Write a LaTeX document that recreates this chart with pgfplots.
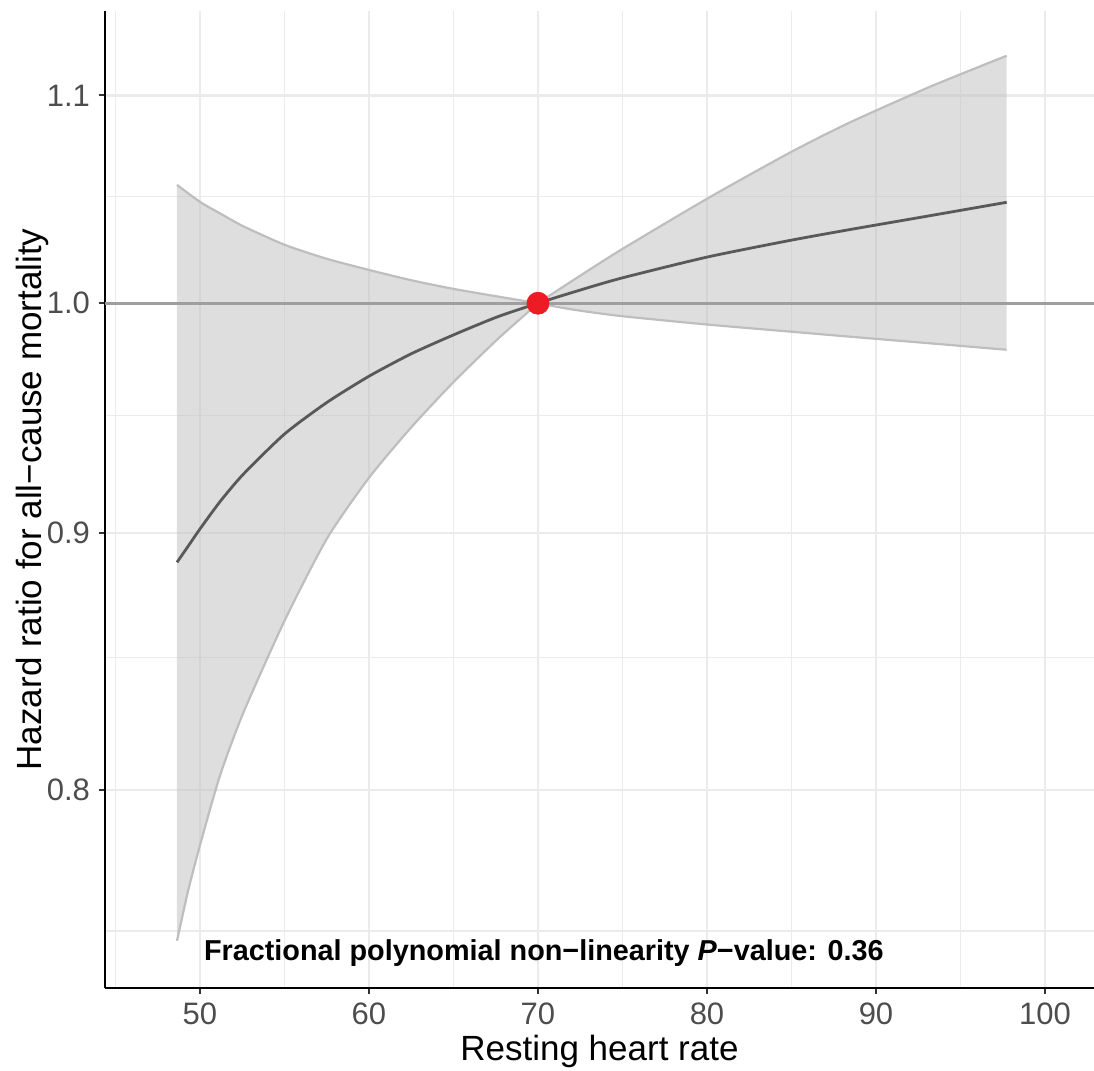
\documentclass[border=0pt]{standalone}
\usepackage{pgfplots}
\pgfplotsset{compat=1.18}
\usepgfplotslibrary{fillbetween}
\usetikzlibrary{calc}
\usepackage{fontspec}
\setmainfont{Liberation Sans}
\definecolor{gridc}{RGB}{235,235,235}
\definecolor{ticklab}{RGB}{77,77,77}
\definecolor{refline}{RGB}{158,158,158}
\definecolor{ciline}{RGB}{190,190,190}
\definecolor{fitline}{RGB}{89,89,89}
\definecolor{refpt}{RGB}{237,28,36}

% fitted hazard ratio and 95% CI
\pgfplotstableread{
x hr
48.64 0.8880
49.30 0.8946
50.00 0.9017
51.18 0.9130
52.55 0.9245
55.00 0.9418
57.50 0.9555
60.00 0.9671
62.50 0.9771
65.00 0.9856
67.60 0.9938
70.00 1.0000
72.00 1.0049
74.85 1.0114
80.00 1.0214
84.90 1.0292
88.46 1.0344
93.20 1.0410
97.73 1.0474
}\fitdata
\pgfplotstableread{
x hr
48.64 1.0558
50.00 1.0476
51.20 1.0420
52.55 1.0360
55.00 1.0272
57.50 1.0206
60.00 1.0154
62.50 1.0106
65.00 1.0066
67.60 1.0031
70.00 1.0000
72.00 1.0102
74.85 1.0245
80.00 1.0491
84.90 1.0715
88.46 1.0865
93.20 1.1044
97.73 1.1202
}\ciup
\pgfplotstableread{
x hr
48.64 0.7466
49.30 0.7640
50.00 0.7800
51.18 0.8052
52.55 0.8286
55.00 0.8645
57.50 0.8976
60.00 0.9231
62.50 0.9447
65.00 0.9645
67.60 0.9836
70.00 1.0000
72.00 0.9972
74.85 0.9942
80.00 0.9903
84.90 0.9871
88.46 0.9848
93.20 0.9818
97.73 0.9789
}\cilow

\begin{document}
\begin{tikzpicture}
\begin{axis}[
  scale only axis, width=494.5pt, height=488.4pt,
  xmin=44.38, xmax=102.9, ymode=log, ymin=0.7307, ymax=1.1434,
  xtick={50,60,70,80,90,100}, minor xtick={45,55,65,75,85,95},
  ytick={0.8,0.9,1.0,1.1}, yticklabels={0.8,0.9,1.0,1.1},
  minor ytick={0.75,0.85,0.95,1.05},
  /pgf/number format/assume math mode=true,
  grid=both,
  major grid style={line width=1.1pt,draw=gridc},
  minor grid style={line width=0.6pt,draw=gridc},
  axis x line*=bottom, axis y line*=left,
  axis line style={line width=1.1pt,black,-},
  tick align=outside, major tick length=3pt, minor tick length=0pt,
  tick style={line width=1pt,black!80},
  tick label style={font=\fontsize{15.5}{18}\selectfont,text=ticklab},
  xticklabel style={yshift=-1pt}, yticklabel style={xshift=-1pt},
  label style={font=\fontsize{17.5}{20}\selectfont},
  xlabel={Resting heart rate}, ylabel={Hazard ratio for all−cause mortality},
  xlabel style={yshift=1.5pt}, ylabel style={yshift=-8pt},
  clip=true,
]
% ribbon
\addplot[name path=up, draw=none, smooth, tension=0.4] table[x=x,y=hr] {\ciup};
\addplot[name path=lo, draw=none, smooth, tension=0.4] table[x=x,y=hr] {\cilow};
\addplot[gray!50, fill opacity=0.52, draw=none] fill between[of=up and lo];
% CI borders, split at the reference point so the kink stays sharp
\addplot[ciline, line width=1.1pt, smooth, tension=0.4, restrict x to domain=48:70] table[x=x,y=hr] {\ciup};
\addplot[ciline, line width=1.1pt, smooth, tension=0.4, restrict x to domain=70:98] table[x=x,y=hr] {\ciup};
\addplot[ciline, line width=1.1pt, smooth, tension=0.4, restrict x to domain=48:70] table[x=x,y=hr] {\cilow};
\addplot[ciline, line width=1.1pt, smooth, tension=0.4, restrict x to domain=70:98] table[x=x,y=hr] {\cilow};
\addplot[refline, line width=1.4pt] coordinates {(44.38,1) (102.9,1)};
\addplot[fitline, line width=1.4pt, smooth, tension=0.4] table[x=x,y=hr] {\fitdata};
\addplot[only marks, mark=*, mark size=5.5pt, color=refpt] coordinates {(70,1)};
\node[font=\bfseries\fontsize{14.4}{16}\selectfont] at (axis cs:70.35,0.7424)
  {Fractional polynomial non−linearity \textit{P}−value: 0.36};
\end{axis}
\pgfresetboundingbox
\path[use as bounding box] ($(current axis.south west)+(-52.5pt,-41.15pt)$) rectangle ($(current axis.north east)+(0,5.5pt)$);
\end{tikzpicture}
\end{document}
